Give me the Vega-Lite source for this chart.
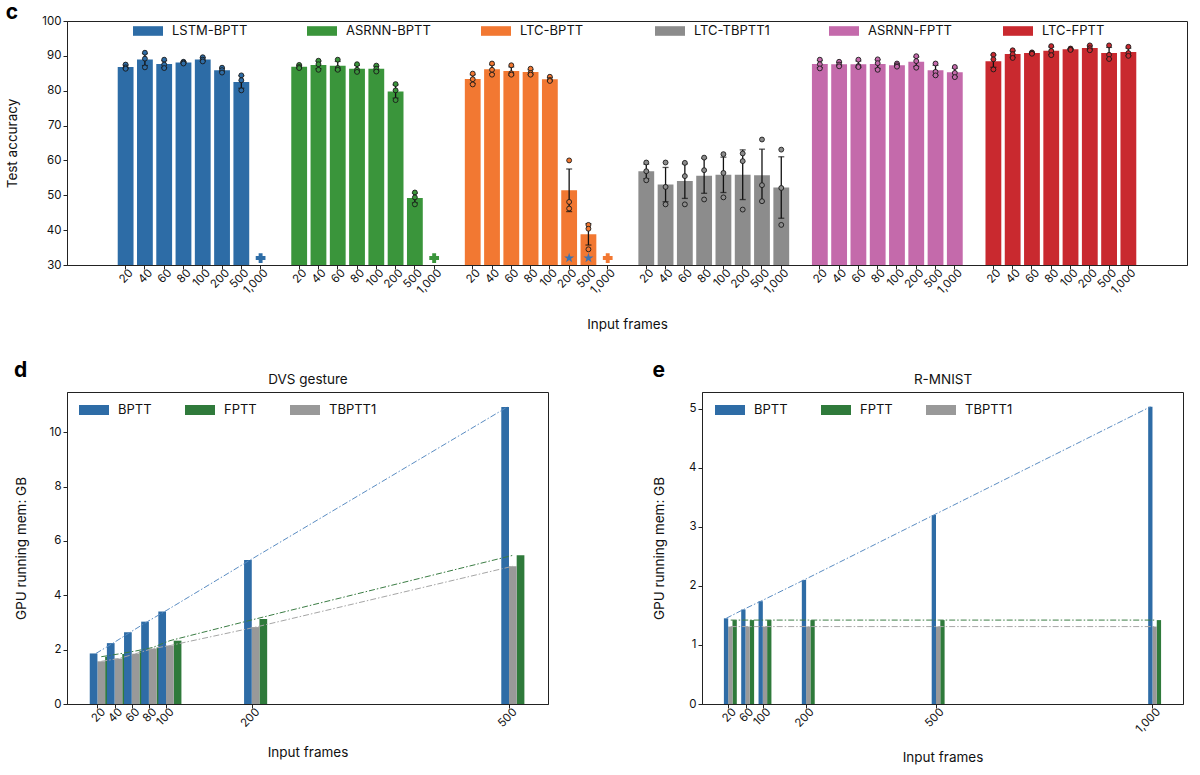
{
  "$schema": "https://vega.github.io/schema/vega-lite/v6.json",
  "padding": {"left": 5, "top": 1, "right": 5, "bottom": 5},
  "bounds": "flush",
  "spacing": 127,
  "resolve": {"scale": {"color": "independent", "fill": "independent"}, "legend": {"color": "independent", "fill": "independent"}},
  "config": {
    "font": "Inter",
    "view": {"stroke": "#222", "strokeWidth": 1},
    "axis": {
      "grid": false, "domainColor": "#222", "tickColor": "#222",
      "labelColor": "#111", "titleColor": "#111",
      "labelFontSize": 11.5, "titleFontSize": 13.5, "titleFontWeight": "normal",
      "tickSize": 4, "labelOverlap": false, "labelFlush": false
    },
    "legend": {
      "title": null, "labelFontSize": 13, "labelColor": "#111",
      "symbolSize": 900, "symbolStrokeWidth": 0, "labelOffset": 9,
      "padding": 0, "rowPadding": 0
    }
  },
  "vconcat": [
    {
      "width": 1120,
      "height": 244,
      "title": {"text": "c", "anchor": "start", "frame": "bounds", "fontSize": 21, "fontWeight": "bold", "offset": -8},
      "data": {"values": [
        {"k": "LSTM-BPTT|20", "m": "LSTM-BPTT", "acc": 87.5}, {"k": "LSTM-BPTT|20", "m": "LSTM-BPTT", "acc": 86.7}, {"k": "LSTM-BPTT|20", "m": "LSTM-BPTT", "acc": 86.3},
        {"k": "LSTM-BPTT|40", "m": "LSTM-BPTT", "acc": 90.9}, {"k": "LSTM-BPTT|40", "m": "LSTM-BPTT", "acc": 89.2}, {"k": "LSTM-BPTT|40", "m": "LSTM-BPTT", "acc": 86.7},
        {"k": "LSTM-BPTT|60", "m": "LSTM-BPTT", "acc": 88.9}, {"k": "LSTM-BPTT|60", "m": "LSTM-BPTT", "acc": 87.5}, {"k": "LSTM-BPTT|60", "m": "LSTM-BPTT", "acc": 86.5},
        {"k": "LSTM-BPTT|80", "m": "LSTM-BPTT", "acc": 88.3}, {"k": "LSTM-BPTT|80", "m": "LSTM-BPTT", "acc": 88.1}, {"k": "LSTM-BPTT|80", "m": "LSTM-BPTT", "acc": 87.8},
        {"k": "LSTM-BPTT|100", "m": "LSTM-BPTT", "acc": 89.6}, {"k": "LSTM-BPTT|100", "m": "LSTM-BPTT", "acc": 88.9}, {"k": "LSTM-BPTT|100", "m": "LSTM-BPTT", "acc": 88.4},
        {"k": "LSTM-BPTT|200", "m": "LSTM-BPTT", "acc": 86.6}, {"k": "LSTM-BPTT|200", "m": "LSTM-BPTT", "acc": 85.9}, {"k": "LSTM-BPTT|200", "m": "LSTM-BPTT", "acc": 85.2},
        {"k": "LSTM-BPTT|500", "m": "LSTM-BPTT", "acc": 84.4}, {"k": "LSTM-BPTT|500", "m": "LSTM-BPTT", "acc": 83.0}, {"k": "LSTM-BPTT|500", "m": "LSTM-BPTT", "acc": 80.1},
        {"k": "ASRNN-BPTT|20", "m": "ASRNN-BPTT", "acc": 87.4}, {"k": "ASRNN-BPTT|20", "m": "ASRNN-BPTT", "acc": 86.8}, {"k": "ASRNN-BPTT|20", "m": "ASRNN-BPTT", "acc": 86.5},
        {"k": "ASRNN-BPTT|40", "m": "ASRNN-BPTT", "acc": 88.6}, {"k": "ASRNN-BPTT|40", "m": "ASRNN-BPTT", "acc": 87.6}, {"k": "ASRNN-BPTT|40", "m": "ASRNN-BPTT", "acc": 86.0},
        {"k": "ASRNN-BPTT|60", "m": "ASRNN-BPTT", "acc": 88.9}, {"k": "ASRNN-BPTT|60", "m": "ASRNN-BPTT", "acc": 86.5}, {"k": "ASRNN-BPTT|60", "m": "ASRNN-BPTT", "acc": 86.0},
        {"k": "ASRNN-BPTT|80", "m": "ASRNN-BPTT", "acc": 87.6}, {"k": "ASRNN-BPTT|80", "m": "ASRNN-BPTT", "acc": 86.0}, {"k": "ASRNN-BPTT|80", "m": "ASRNN-BPTT", "acc": 85.4},
        {"k": "ASRNN-BPTT|100", "m": "ASRNN-BPTT", "acc": 87.2}, {"k": "ASRNN-BPTT|100", "m": "ASRNN-BPTT", "acc": 86.3}, {"k": "ASRNN-BPTT|100", "m": "ASRNN-BPTT", "acc": 85.5},
        {"k": "ASRNN-BPTT|200", "m": "ASRNN-BPTT", "acc": 81.9}, {"k": "ASRNN-BPTT|200", "m": "ASRNN-BPTT", "acc": 80.1}, {"k": "ASRNN-BPTT|200", "m": "ASRNN-BPTT", "acc": 77.3},
        {"k": "ASRNN-BPTT|500", "m": "ASRNN-BPTT", "acc": 50.8}, {"k": "ASRNN-BPTT|500", "m": "ASRNN-BPTT", "acc": 49.4}, {"k": "ASRNN-BPTT|500", "m": "ASRNN-BPTT", "acc": 47.4},
        {"k": "LTC-BPTT|20", "m": "LTC-BPTT", "acc": 84.9}, {"k": "LTC-BPTT|20", "m": "LTC-BPTT", "acc": 83.3}, {"k": "LTC-BPTT|20", "m": "LTC-BPTT", "acc": 81.8},
        {"k": "LTC-BPTT|40", "m": "LTC-BPTT", "acc": 87.8}, {"k": "LTC-BPTT|40", "m": "LTC-BPTT", "acc": 86.0}, {"k": "LTC-BPTT|40", "m": "LTC-BPTT", "acc": 84.6},
        {"k": "LTC-BPTT|60", "m": "LTC-BPTT", "acc": 87.3}, {"k": "LTC-BPTT|60", "m": "LTC-BPTT", "acc": 85.0}, {"k": "LTC-BPTT|60", "m": "LTC-BPTT", "acc": 84.6},
        {"k": "LTC-BPTT|80", "m": "LTC-BPTT", "acc": 86.3}, {"k": "LTC-BPTT|80", "m": "LTC-BPTT", "acc": 85.1}, {"k": "LTC-BPTT|80", "m": "LTC-BPTT", "acc": 84.6},
        {"k": "LTC-BPTT|100", "m": "LTC-BPTT", "acc": 84.0}, {"k": "LTC-BPTT|100", "m": "LTC-BPTT", "acc": 83.1}, {"k": "LTC-BPTT|100", "m": "LTC-BPTT", "acc": 82.8},
        {"k": "LTC-BPTT|200", "m": "LTC-BPTT", "acc": 60.0}, {"k": "LTC-BPTT|200", "m": "LTC-BPTT", "acc": 48.1}, {"k": "LTC-BPTT|200", "m": "LTC-BPTT", "acc": 46.2},
        {"k": "LTC-BPTT|500", "m": "LTC-BPTT", "acc": 41.5}, {"k": "LTC-BPTT|500", "m": "LTC-BPTT", "acc": 40.4}, {"k": "LTC-BPTT|500", "m": "LTC-BPTT", "acc": 34.5},
        {"k": "LTC-TBPTT1|20", "m": "LTC-TBPTT1", "acc": 59.4}, {"k": "LTC-TBPTT1|20", "m": "LTC-TBPTT1", "acc": 56.9}, {"k": "LTC-TBPTT1|20", "m": "LTC-TBPTT1", "acc": 54.3},
        {"k": "LTC-TBPTT1|40", "m": "LTC-TBPTT1", "acc": 59.4}, {"k": "LTC-TBPTT1|40", "m": "LTC-TBPTT1", "acc": 52.4}, {"k": "LTC-TBPTT1|40", "m": "LTC-TBPTT1", "acc": 47.4},
        {"k": "LTC-TBPTT1|60", "m": "LTC-TBPTT1", "acc": 59.3}, {"k": "LTC-TBPTT1|60", "m": "LTC-TBPTT1", "acc": 55.5}, {"k": "LTC-TBPTT1|60", "m": "LTC-TBPTT1", "acc": 47.4},
        {"k": "LTC-TBPTT1|80", "m": "LTC-TBPTT1", "acc": 60.8}, {"k": "LTC-TBPTT1|80", "m": "LTC-TBPTT1", "acc": 57.2}, {"k": "LTC-TBPTT1|80", "m": "LTC-TBPTT1", "acc": 48.8},
        {"k": "LTC-TBPTT1|100", "m": "LTC-TBPTT1", "acc": 61.8}, {"k": "LTC-TBPTT1|100", "m": "LTC-TBPTT1", "acc": 56.4}, {"k": "LTC-TBPTT1|100", "m": "LTC-TBPTT1", "acc": 49.4},
        {"k": "LTC-TBPTT1|200", "m": "LTC-TBPTT1", "acc": 62.0}, {"k": "LTC-TBPTT1|200", "m": "LTC-TBPTT1", "acc": 59.8}, {"k": "LTC-TBPTT1|200", "m": "LTC-TBPTT1", "acc": 45.9},
        {"k": "LTC-TBPTT1|500", "m": "LTC-TBPTT1", "acc": 66.0}, {"k": "LTC-TBPTT1|500", "m": "LTC-TBPTT1", "acc": 52.9}, {"k": "LTC-TBPTT1|500", "m": "LTC-TBPTT1", "acc": 48.3},
        {"k": "LTC-TBPTT1|1,000", "m": "LTC-TBPTT1", "acc": 63.1}, {"k": "LTC-TBPTT1|1,000", "m": "LTC-TBPTT1", "acc": 52.1}, {"k": "LTC-TBPTT1|1,000", "m": "LTC-TBPTT1", "acc": 41.5},
        {"k": "ASRNN-FPTT|20", "m": "ASRNN-FPTT", "acc": 88.9}, {"k": "ASRNN-FPTT|20", "m": "ASRNN-FPTT", "acc": 87.6}, {"k": "ASRNN-FPTT|20", "m": "ASRNN-FPTT", "acc": 86.4},
        {"k": "ASRNN-FPTT|40", "m": "ASRNN-FPTT", "acc": 88.3}, {"k": "ASRNN-FPTT|40", "m": "ASRNN-FPTT", "acc": 87.5}, {"k": "ASRNN-FPTT|40", "m": "ASRNN-FPTT", "acc": 87.0},
        {"k": "ASRNN-FPTT|60", "m": "ASRNN-FPTT", "acc": 88.9}, {"k": "ASRNN-FPTT|60", "m": "ASRNN-FPTT", "acc": 87.1}, {"k": "ASRNN-FPTT|60", "m": "ASRNN-FPTT", "acc": 86.8},
        {"k": "ASRNN-FPTT|80", "m": "ASRNN-FPTT", "acc": 89.0}, {"k": "ASRNN-FPTT|80", "m": "ASRNN-FPTT", "acc": 87.9}, {"k": "ASRNN-FPTT|80", "m": "ASRNN-FPTT", "acc": 86.0},
        {"k": "ASRNN-FPTT|100", "m": "ASRNN-FPTT", "acc": 87.8}, {"k": "ASRNN-FPTT|100", "m": "ASRNN-FPTT", "acc": 87.3}, {"k": "ASRNN-FPTT|100", "m": "ASRNN-FPTT", "acc": 86.9},
        {"k": "ASRNN-FPTT|200", "m": "ASRNN-FPTT", "acc": 89.9}, {"k": "ASRNN-FPTT|200", "m": "ASRNN-FPTT", "acc": 88.5}, {"k": "ASRNN-FPTT|200", "m": "ASRNN-FPTT", "acc": 86.6},
        {"k": "ASRNN-FPTT|500", "m": "ASRNN-FPTT", "acc": 87.8}, {"k": "ASRNN-FPTT|500", "m": "ASRNN-FPTT", "acc": 85.4}, {"k": "ASRNN-FPTT|500", "m": "ASRNN-FPTT", "acc": 84.4},
        {"k": "ASRNN-FPTT|1,000", "m": "ASRNN-FPTT", "acc": 86.8}, {"k": "ASRNN-FPTT|1,000", "m": "ASRNN-FPTT", "acc": 85.1}, {"k": "ASRNN-FPTT|1,000", "m": "ASRNN-FPTT", "acc": 83.9},
        {"k": "LTC-FPTT|20", "m": "LTC-FPTT", "acc": 90.3}, {"k": "LTC-FPTT|20", "m": "LTC-FPTT", "acc": 89.0}, {"k": "LTC-FPTT|20", "m": "LTC-FPTT", "acc": 86.1},
        {"k": "LTC-FPTT|40", "m": "LTC-FPTT", "acc": 91.6}, {"k": "LTC-FPTT|40", "m": "LTC-FPTT", "acc": 90.5}, {"k": "LTC-FPTT|40", "m": "LTC-FPTT", "acc": 89.4},
        {"k": "LTC-FPTT|60", "m": "LTC-FPTT", "acc": 91.0}, {"k": "LTC-FPTT|60", "m": "LTC-FPTT", "acc": 90.8}, {"k": "LTC-FPTT|60", "m": "LTC-FPTT", "acc": 90.6},
        {"k": "LTC-FPTT|80", "m": "LTC-FPTT", "acc": 92.8}, {"k": "LTC-FPTT|80", "m": "LTC-FPTT", "acc": 91.4}, {"k": "LTC-FPTT|80", "m": "LTC-FPTT", "acc": 90.2},
        {"k": "LTC-FPTT|100", "m": "LTC-FPTT", "acc": 92.1}, {"k": "LTC-FPTT|100", "m": "LTC-FPTT", "acc": 91.9}, {"k": "LTC-FPTT|100", "m": "LTC-FPTT", "acc": 91.7},
        {"k": "LTC-FPTT|200", "m": "LTC-FPTT", "acc": 93.0}, {"k": "LTC-FPTT|200", "m": "LTC-FPTT", "acc": 92.2}, {"k": "LTC-FPTT|200", "m": "LTC-FPTT", "acc": 91.6},
        {"k": "LTC-FPTT|500", "m": "LTC-FPTT", "acc": 93.0}, {"k": "LTC-FPTT|500", "m": "LTC-FPTT", "acc": 90.3}, {"k": "LTC-FPTT|500", "m": "LTC-FPTT", "acc": 89.1},
        {"k": "LTC-FPTT|1,000", "m": "LTC-FPTT", "acc": 92.6}, {"k": "LTC-FPTT|1,000", "m": "LTC-FPTT", "acc": 90.8}, {"k": "LTC-FPTT|1,000", "m": "LTC-FPTT", "acc": 90.0}
      ]},
      "encoding": {
        "x": {
          "field": "k", "type": "nominal",
          "scale": {
            "domain": [
              "pad1", "pad2",
              "LSTM-BPTT|20", "LSTM-BPTT|40", "LSTM-BPTT|60", "LSTM-BPTT|80", "LSTM-BPTT|100", "LSTM-BPTT|200", "LSTM-BPTT|500", "LSTM-BPTT|1,000", "gap1",
              "ASRNN-BPTT|20", "ASRNN-BPTT|40", "ASRNN-BPTT|60", "ASRNN-BPTT|80", "ASRNN-BPTT|100", "ASRNN-BPTT|200", "ASRNN-BPTT|500", "ASRNN-BPTT|1,000", "gap2",
              "LTC-BPTT|20", "LTC-BPTT|40", "LTC-BPTT|60", "LTC-BPTT|80", "LTC-BPTT|100", "LTC-BPTT|200", "LTC-BPTT|500", "LTC-BPTT|1,000", "gap3",
              "LTC-TBPTT1|20", "LTC-TBPTT1|40", "LTC-TBPTT1|60", "LTC-TBPTT1|80", "LTC-TBPTT1|100", "LTC-TBPTT1|200", "LTC-TBPTT1|500", "LTC-TBPTT1|1,000", "gap4",
              "ASRNN-FPTT|20", "ASRNN-FPTT|40", "ASRNN-FPTT|60", "ASRNN-FPTT|80", "ASRNN-FPTT|100", "ASRNN-FPTT|200", "ASRNN-FPTT|500", "ASRNN-FPTT|1,000", "gap5",
              "LTC-FPTT|20", "LTC-FPTT|40", "LTC-FPTT|60", "LTC-FPTT|80", "LTC-FPTT|100", "LTC-FPTT|200", "LTC-FPTT|500", "LTC-FPTT|1,000",
              "pad3", "pad4"
            ],
            "paddingInner": 0.18,
            "paddingOuter": 0.63
          },
          "axis": {
            "title": "Input frames",
            "values": [
              "LSTM-BPTT|20", "LSTM-BPTT|40", "LSTM-BPTT|60", "LSTM-BPTT|80", "LSTM-BPTT|100", "LSTM-BPTT|200", "LSTM-BPTT|500", "LSTM-BPTT|1,000",
              "ASRNN-BPTT|20", "ASRNN-BPTT|40", "ASRNN-BPTT|60", "ASRNN-BPTT|80", "ASRNN-BPTT|100", "ASRNN-BPTT|200", "ASRNN-BPTT|500", "ASRNN-BPTT|1,000",
              "LTC-BPTT|20", "LTC-BPTT|40", "LTC-BPTT|60", "LTC-BPTT|80", "LTC-BPTT|100", "LTC-BPTT|200", "LTC-BPTT|500", "LTC-BPTT|1,000",
              "LTC-TBPTT1|20", "LTC-TBPTT1|40", "LTC-TBPTT1|60", "LTC-TBPTT1|80", "LTC-TBPTT1|100", "LTC-TBPTT1|200", "LTC-TBPTT1|500", "LTC-TBPTT1|1,000",
              "ASRNN-FPTT|20", "ASRNN-FPTT|40", "ASRNN-FPTT|60", "ASRNN-FPTT|80", "ASRNN-FPTT|100", "ASRNN-FPTT|200", "ASRNN-FPTT|500", "ASRNN-FPTT|1,000",
              "LTC-FPTT|20", "LTC-FPTT|40", "LTC-FPTT|60", "LTC-FPTT|80", "LTC-FPTT|100", "LTC-FPTT|200", "LTC-FPTT|500", "LTC-FPTT|1,000"
            ],
            "labelExpr": "split(datum.value, '|')[1]",
            "labelAngle": -45,
            "labelAlign": "right",
            "labelBaseline": "middle",
            "labelOffset": 6,
            "labelPadding": 2,
            "titlePadding": 22
          }
        }
      },
      "layer": [
        {
          "transform": [
            {"aggregate": [{"op": "mean", "field": "acc", "as": "mean"}, {"op": "stdevp", "field": "acc", "as": "sd"}], "groupby": ["k", "m"]}
          ],
          "layer": [
            {
              "mark": {"type": "bar", "clip": true},
              "encoding": {
                "y": {
                  "field": "mean", "type": "quantitative",
                  "scale": {"domain": [30, 100], "nice": false, "zero": false},
                  "axis": {"title": "Test accuracy", "values": [30, 40, 50, 60, 70, 80, 90, 100], "titlePadding": 22}
                },
                "color": {
                  "field": "m", "type": "nominal",
                  "scale": {
                    "domain": ["LSTM-BPTT", "ASRNN-BPTT", "LTC-BPTT", "LTC-TBPTT1", "ASRNN-FPTT", "LTC-FPTT"],
                    "range": ["#2d6ca6", "#3a953b", "#f27832", "#8c8c8c", "#c46aab", "#c9292f"]
                  },
                  "legend": {
                    "orient": "none", "legendX": 66, "legendY": -5,
                    "direction": "horizontal", "columns": 6, "gridAlign": "all", "columnPadding": 50,
                    "symbolType": "M-1,-0.32H1V0.32H-1Z"
                  }
                }
              }
            },
            {
              "mark": {"type": "errorbar", "ticks": true, "color": "#111", "thickness": 1.3, "size": 6},
              "encoding": {
                "y": {"field": "mean", "type": "quantitative", "scale": {"domain": [30, 100], "nice": false, "zero": false}, "axis": {"title": "Test accuracy", "values": [30, 40, 50, 60, 70, 80, 90, 100], "titlePadding": 22}},
                "yError": {"field": "sd"}
              }
            }
          ]
        },
        {
          "mark": {"type": "circle", "size": 24, "stroke": "#1a1a1a", "strokeWidth": 0.9, "opacity": 1},
          "encoding": {
            "y": {"field": "acc", "type": "quantitative", "scale": {"domain": [30, 100], "nice": false, "zero": false}, "axis": {"title": "Test accuracy", "values": [30, 40, 50, 60, 70, 80, 90, 100], "titlePadding": 22}},
            "fill": {
              "field": "m", "type": "nominal",
              "scale": {
                "domain": ["LSTM-BPTT", "ASRNN-BPTT", "LTC-BPTT", "LTC-TBPTT1", "ASRNN-FPTT", "LTC-FPTT"],
                "range": ["#2d6ca6", "#3a953b", "#f27832", "#8c8c8c", "#c46aab", "#c9292f"]
              },
              "legend": null
            }
          }
        },
        {
          "data": {"values": [
            {"k": "LSTM-BPTT|1,000", "m": "LSTM-BPTT", "note": "oom"},
            {"k": "ASRNN-BPTT|1,000", "m": "ASRNN-BPTT", "note": "oom"},
            {"k": "LTC-BPTT|1,000", "m": "LTC-BPTT", "note": "oom"},
            {"k": "LTC-BPTT|200", "m": "LTC-BPTT", "note": "star"},
            {"k": "LTC-BPTT|500", "m": "LTC-BPTT", "note": "star"}
          ]},
          "layer": [
            {
              "transform": [{"filter": "datum.note === 'oom'"}],
              "mark": {"type": "point", "shape": "cross", "filled": true, "size": 95, "opacity": 1},
              "encoding": {
                "y": {"datum": 32, "type": "quantitative", "scale": {"domain": [30, 100], "nice": false, "zero": false}, "axis": {"title": "Test accuracy", "values": [30, 40, 50, 60, 70, 80, 90, 100], "titlePadding": 22}},
                "fill": {"field": "m", "type": "nominal", "legend": null}
              }
            },
            {
              "transform": [{"filter": "datum.note === 'star'"}],
              "mark": {"type": "point", "shape": "M0,-1L0.2245,-0.309L0.951,-0.309L0.363,0.118L0.588,0.809L0,0.382L-0.588,0.809L-0.363,0.118L-0.951,-0.309L-0.2245,-0.309Z", "filled": true, "size": 110, "color": "#3a73b2", "opacity": 1},
              "encoding": {
                "y": {"datum": 32, "type": "quantitative", "scale": {"domain": [30, 100], "nice": false, "zero": false}, "axis": {"title": "Test accuracy", "values": [30, 40, 50, 60, 70, 80, 90, 100], "titlePadding": 22}}
              }
            }
          ]
        }
      ]
    },
    {
      "bounds": "flush",
      "spacing": 154,
      "resolve": {"scale": {"color": "independent"}, "legend": {"color": "independent"}},
      "hconcat": [
        {
          "width": 481,
          "height": 312,
          "title": {"text": "d", "anchor": "start", "frame": "bounds", "fontSize": 21, "fontWeight": "bold", "offset": -9},
          "data": {"values": [
            {"f": 20, "method": "BPTT", "mem": 1.86}, {"f": 40, "method": "BPTT", "mem": 2.24}, {"f": 60, "method": "BPTT", "mem": 2.64},
            {"f": 80, "method": "BPTT", "mem": 3.03}, {"f": 100, "method": "BPTT", "mem": 3.4}, {"f": 200, "method": "BPTT", "mem": 5.3},
            {"f": 500, "method": "BPTT", "mem": 10.93},
            {"f": 20, "method": "FPTT", "mem": 1.74}, {"f": 40, "method": "FPTT", "mem": 1.84}, {"f": 60, "method": "FPTT", "mem": 1.95},
            {"f": 80, "method": "FPTT", "mem": 2.08}, {"f": 100, "method": "FPTT", "mem": 2.33}, {"f": 200, "method": "FPTT", "mem": 3.13},
            {"f": 500, "method": "FPTT", "mem": 5.47},
            {"f": 20, "method": "TBPTT1", "mem": 1.57}, {"f": 40, "method": "TBPTT1", "mem": 1.67}, {"f": 60, "method": "TBPTT1", "mem": 1.85},
            {"f": 80, "method": "TBPTT1", "mem": 2.04}, {"f": 100, "method": "TBPTT1", "mem": 2.15}, {"f": 200, "method": "TBPTT1", "mem": 2.83},
            {"f": 500, "method": "TBPTT1", "mem": 5.07}
          ]},
          "resolve": {"axis": {"x": "independent"}},
          "layer": [
            {
              "encoding": {
                "x": {
                  "field": "f", "type": "quantitative",
                  "scale": {"domain": [-15.5, 545.5], "nice": false, "zero": false, "padding": 0},
                  "axis": {"title": "Input frames", "values": [20, 40, 60, 80, 100, 200, 500], "format": "d", "labelAngle": -45, "labelAlign": "right", "labelBaseline": "middle", "labelOffset": 6, "labelPadding": 2, "titlePadding": 16}
                },
                "y": {
                  "field": "mem", "type": "quantitative",
                  "scale": {"domain": [0, 11.48], "nice": false},
                  "axis": {"title": "GPU running mem: GB", "values": [0, 2, 4, 6, 8, 10], "format": "d", "titlePadding": 21}
                }
              },
              "layer": [
                {
                  "transform": [{"filter": "datum.method === 'FPTT'"}],
                  "mark": {"type": "bar", "orient": "vertical", "width": 7.7, "xOffset": 11.55},
                  "encoding": {"color": {"field": "method", "type": "nominal", "scale": {"domain": ["BPTT", "FPTT", "TBPTT1"], "range": ["#2e6ca6", "#2f7a3b", "#999999"]}, "legend": {"orient": "none", "legendX": 12, "legendY": 3, "direction": "horizontal", "columns": 3, "columnPadding": 33, "symbolType": "M-1,-0.333H1V0.333H-1Z"}}}
                },
                {
                  "transform": [{"filter": "datum.method === 'TBPTT1'"}],
                  "mark": {"type": "bar", "orient": "vertical", "width": 7.7, "xOffset": 3.85},
                  "encoding": {"color": {"field": "method", "type": "nominal"}}
                },
                {
                  "transform": [{"filter": "datum.method === 'BPTT'"}],
                  "mark": {"type": "bar", "orient": "vertical", "width": 7.7, "xOffset": -3.85},
                  "encoding": {"color": {"field": "method", "type": "nominal"}}
                },
                {
                  "transform": [{"filter": "datum.method === 'FPTT'"}],
                  "mark": {"type": "line", "color": "#3b7d44", "strokeWidth": 1, "strokeDash": [6, 2, 1.5, 2], "xOffset": 3.85},
                  "encoding": {}
                },
                {
                  "transform": [{"filter": "datum.method === 'TBPTT1'"}],
                  "mark": {"type": "line", "color": "#a6a6a6", "strokeWidth": 1, "strokeDash": [6, 2, 1.5, 2], "xOffset": 3.85},
                  "encoding": {}
                }
              ]
            },
            {
              "transform": [{"filter": "datum.method === 'BPTT'"}],
              "mark": {"type": "line", "color": "#5a8cc2", "strokeWidth": 1, "strokeDash": [6, 2, 1.5, 2], "xOffset": -1.5},
              "encoding": {
                "x": {
                  "field": "f", "type": "quantitative",
                  "scale": {"domain": [-15.5, 545.5], "nice": false, "zero": false, "padding": 0},
                  "axis": {"orient": "top", "title": "DVS gesture", "labels": false, "ticks": false, "domain": false, "titlePadding": 6}
                },
                "y": {"field": "mem", "type": "quantitative"}
              }
            }
          ]
        },
        {
          "width": 481,
          "height": 312,
          "title": {"text": "e", "anchor": "start", "frame": "bounds", "fontSize": 21, "fontWeight": "bold", "offset": -9},
          "data": {"values": [
            {"f": 20, "method": "BPTT", "mem": 1.45}, {"f": 60, "method": "BPTT", "mem": 1.6}, {"f": 100, "method": "BPTT", "mem": 1.74},
            {"f": 200, "method": "BPTT", "mem": 2.1}, {"f": 500, "method": "BPTT", "mem": 3.2}, {"f": 1000, "method": "BPTT", "mem": 5.03},
            {"f": 20, "method": "FPTT", "mem": 1.42}, {"f": 60, "method": "FPTT", "mem": 1.42}, {"f": 100, "method": "FPTT", "mem": 1.42},
            {"f": 200, "method": "FPTT", "mem": 1.42}, {"f": 500, "method": "FPTT", "mem": 1.42}, {"f": 1000, "method": "FPTT", "mem": 1.42},
            {"f": 20, "method": "TBPTT1", "mem": 1.31}, {"f": 60, "method": "TBPTT1", "mem": 1.31}, {"f": 100, "method": "TBPTT1", "mem": 1.31},
            {"f": 200, "method": "TBPTT1", "mem": 1.31}, {"f": 500, "method": "TBPTT1", "mem": 1.31}, {"f": 1000, "method": "TBPTT1", "mem": 1.31}
          ]},
          "resolve": {"axis": {"x": "independent"}},
          "layer": [
            {
              "encoding": {
                "x": {
                  "field": "f", "type": "quantitative",
                  "scale": {"domain": [-40.5, 1070.5], "nice": false, "zero": false, "padding": 0},
                  "axis": {"title": "Input frames", "values": [20, 60, 100, 200, 500, 1000], "format": ",d", "labelAngle": -45, "labelAlign": "right", "labelBaseline": "middle", "labelOffset": 6, "labelPadding": 2, "titlePadding": 16}
                },
                "y": {
                  "field": "mem", "type": "quantitative",
                  "scale": {"domain": [0, 5.28], "nice": false},
                  "axis": {"title": "GPU running mem: GB", "values": [0, 1, 2, 3, 4, 5], "format": "d", "titlePadding": 22}
                }
              },
              "layer": [
                {
                  "transform": [{"filter": "datum.method === 'FPTT'"}],
                  "mark": {"type": "bar", "orient": "vertical", "width": 4.3, "xOffset": 6.45},
                  "encoding": {"color": {"field": "method", "type": "nominal", "scale": {"domain": ["BPTT", "FPTT", "TBPTT1"], "range": ["#2e6ca6", "#2f7a3b", "#999999"]}, "legend": {"orient": "none", "legendX": 13, "legendY": 3, "direction": "horizontal", "columns": 3, "columnPadding": 33, "symbolType": "M-1,-0.333H1V0.333H-1Z"}}}
                },
                {
                  "transform": [{"filter": "datum.method === 'TBPTT1'"}],
                  "mark": {"type": "bar", "orient": "vertical", "width": 4.3, "xOffset": 2.15},
                  "encoding": {"color": {"field": "method", "type": "nominal"}}
                },
                {
                  "transform": [{"filter": "datum.method === 'BPTT'"}],
                  "mark": {"type": "bar", "orient": "vertical", "width": 4.3, "xOffset": -2.15},
                  "encoding": {"color": {"field": "method", "type": "nominal"}}
                },
                {
                  "transform": [{"filter": "datum.method === 'FPTT'"}],
                  "mark": {"type": "line", "color": "#3b7d44", "strokeWidth": 1, "strokeDash": [6, 2, 1.5, 2], "xOffset": 2.5},
                  "encoding": {}
                },
                {
                  "transform": [{"filter": "datum.method === 'TBPTT1'"}],
                  "mark": {"type": "line", "color": "#a6a6a6", "strokeWidth": 1, "strokeDash": [6, 2, 1.5, 2], "xOffset": 2.5},
                  "encoding": {}
                }
              ]
            },
            {
              "transform": [{"filter": "datum.method === 'BPTT'"}],
              "mark": {"type": "line", "color": "#5a8cc2", "strokeWidth": 1, "strokeDash": [6, 2, 1.5, 2], "xOffset": -2},
              "encoding": {
                "x": {
                  "field": "f", "type": "quantitative",
                  "scale": {"domain": [-40.5, 1070.5], "nice": false, "zero": false, "padding": 0},
                  "axis": {"orient": "top", "title": "R-MNIST", "labels": false, "ticks": false, "domain": false, "titlePadding": 6}
                },
                "y": {"field": "mem", "type": "quantitative"}
              }
            }
          ]
        }
      ]
    }
  ]
}
